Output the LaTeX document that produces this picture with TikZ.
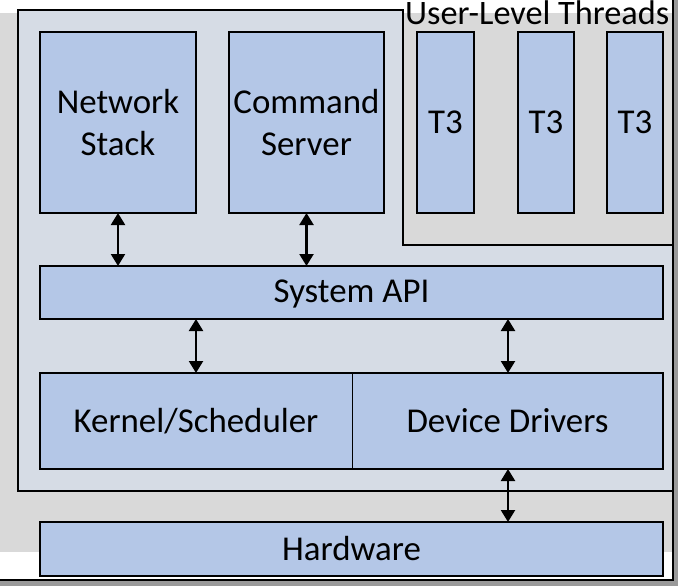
\documentclass[tikz,border=0pt]{standalone}
\usepackage{fontspec}
\setmainfont{Carlito}
\usetikzlibrary{arrows.meta}
\definecolor{boxblue}{HTML}{B4C7E7}
\definecolor{panelgray}{HTML}{D6DCE5}
\definecolor{bggray}{HTML}{D9D9D9}
\definecolor{framegray}{HTML}{9A9A9A}
\tikzset{
  blk/.style={draw=black, line width=1.5bp, fill=boxblue, inner sep=0pt, outer sep=0pt,
    anchor=north west, align=center, font=\fontsize{35}{43}\selectfont},
  dbl/.style={{Triangle[width=14bp,length=12bp]}-{Triangle[width=14bp,length=12bp]}, line width=2.2bp},
  lbl/.style={font=\fontsize{34.4}{42}\selectfont, inner sep=0pt}
}
\begin{document}
\begin{tikzpicture}[x=1bp,y=-1bp]
\useasboundingbox (0,0) rectangle (678,586);
% frame
\fill[framegray] (0,0) rectangle (678,586);
\fill[white] (0,0) rectangle (673,580);
\fill[bggray] (0,13) rectangle (673,552);
% L-shaped panel
\fill[panelgray] (18,10) -- (403,10) -- (403,245) -- (673,245) -- (673,491) -- (18,491) -- cycle;
\draw[line width=1.5bp] (673,491) -- (18,491) -- (18,10) -- (403,10) -- (403,245) -- (673,245);
\draw[black, line width=2bp] (672.5,0) -- (672.5,579.5) -- (0,579.5);
% label
\node[lbl, anchor=base west] (ult) at (405,25) {User-Level Threads};
% boxes
\node[blk, minimum width=156bp, minimum height=181bp] (ns) at (40,32) {Network\\Stack};
\node[blk, minimum width=155bp, minimum height=181bp] (cs) at (229,32) {Command\\Server};
\node[blk, minimum width=57bp, minimum height=181bp] (t1) at (417,32) {T3};
\node[blk, minimum width=56bp, minimum height=181bp] (t2) at (518,32) {T3};
\node[blk, minimum width=56bp, minimum height=181bp] (t3) at (607,32) {T3};
\node[blk, minimum width=623bp, minimum height=53bp, text depth=2bp] (api) at (40,266) {System API};
\node[blk, minimum width=312bp, minimum height=96bp, line width=0.8bp] (ks) at (40,373) {Kernel/Scheduler};
\node[blk, minimum width=311bp, minimum height=96bp, line width=0.8bp] (dd) at (352,373) {Device Drivers};
\draw[line width=1.8bp] (ks.north west) rectangle (dd.south east);
\node[blk, minimum width=623bp, minimum height=54bp, line width=2.2bp] (hw) at (40,522) {Hardware};
% connectors
\coordinate (a1) at (118,213);
\draw[dbl] (ns.south -| a1) -- (api.north -| a1);
\draw[dbl] (cs.south) -- (api.north -| cs.south);
\coordinate (b1) at (196,0); \coordinate (b2) at (508,0);
\draw[dbl] (api.south -| b1) -- (ks.north -| b1);
\draw[dbl] (api.south -| b2) -- (dd.north -| b2);
\draw[dbl] (dd.south -| b2) -- (hw.north -| b2);
\end{tikzpicture}
\end{document}
